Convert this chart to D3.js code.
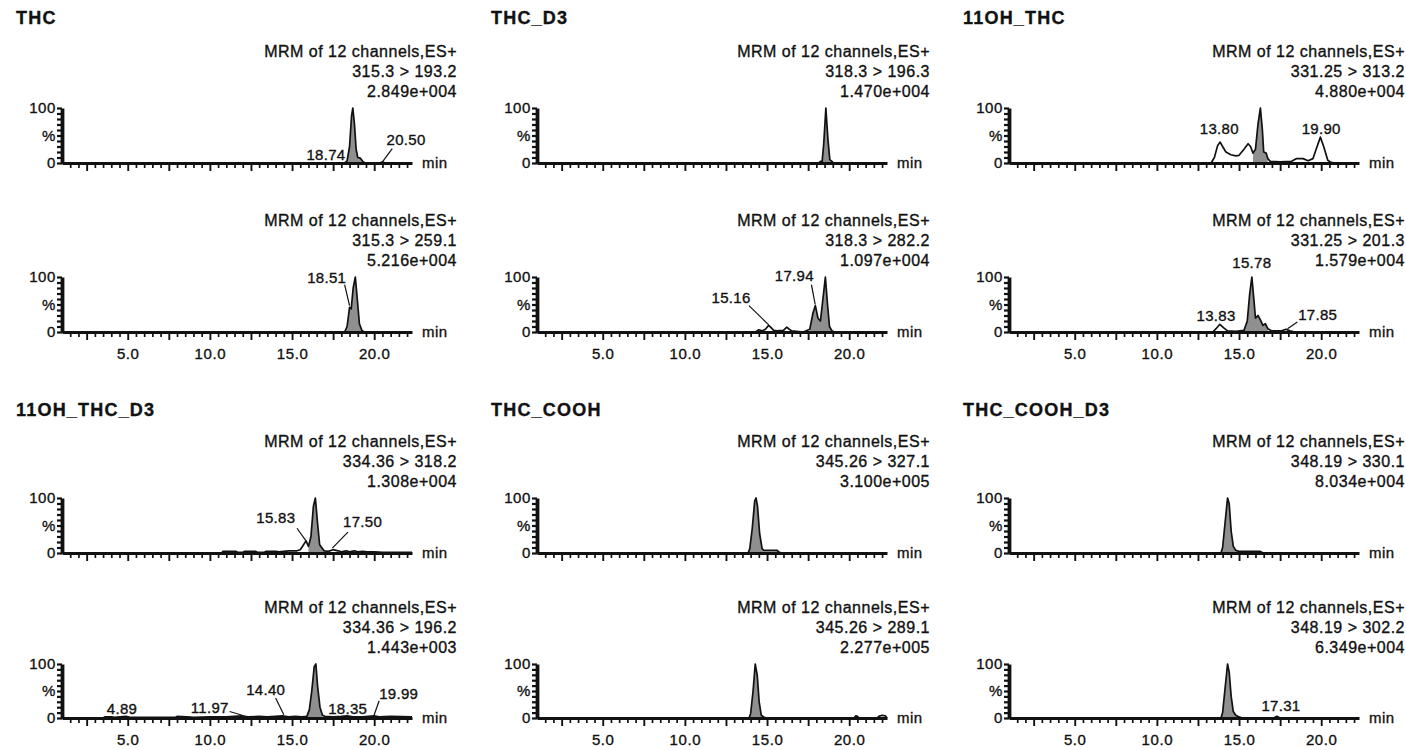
<!DOCTYPE html>
<html><head><meta charset="utf-8">
<script src="https://cdn.jsdelivr.net/npm/d3@7"></script>
<style>
body{margin:0;background:#fff}
svg{display:block}
text{font-family:"Liberation Sans",Arial,sans-serif;fill:#111;stroke:#111;stroke-width:0.35px}
</style>
</head><body>
<svg id="chart" width="1406" height="750"></svg>
<script>
// ---------------- DATA ----------------
const compounds = ["THC", "THC_D3", "11OH_THC", "11OH_THC_D3", "THC_COOH", "THC_COOH_D3"];
const scanFunction = "MRM of 12 channels,ES+";
const transitions = [
  ["315.3 > 193.2", "315.3 > 259.1"],
  ["318.3 > 196.3", "318.3 > 282.2"],
  ["331.25 > 313.2", "331.25 > 201.3"],
  ["334.36 > 318.2", "334.36 > 196.2"],
  ["345.26 > 327.1", "345.26 > 289.1"],
  ["348.19 > 330.1", "348.19 > 302.2"]
];
const intensities = [
  ["2.849e+004", "5.216e+004"],
  ["1.470e+004", "1.097e+004"],
  ["4.880e+004", "1.579e+004"],
  ["1.308e+004", "1.443e+003"],
  ["3.100e+005", "2.277e+005"],
  ["8.034e+004", "6.349e+004"]
];
const timeRange = [1, 22.3];
const xTickLabels = [5, 10, 15, 20];
const yTickLabels = {0: "0", 50: "%", 100: "100"};

// chromatogram traces: [time (min), relative intensity (%)]
const thc_193 = [[1,0],[18.2,0],[18.35,4],[18.5,30],[18.62,85],[18.7,100],[18.8,70],[18.9,25],[19.0,10],[19.15,9],[19.3,3],[19.45,0],[20.35,0],[20.5,2],[20.65,0],[22.3,0]];
const thc_259 = [[1,0],[18.2,0],[18.35,10],[18.5,45],[18.6,42],[18.72,80],[18.85,100],[18.97,60],[19.1,15],[19.25,3],[19.4,0],[22.3,0]];
const thcd3_196 = [[1,0],[18.15,0],[18.25,3],[18.35,2],[18.45,35],[18.58,100],[18.7,45],[18.82,6],[18.95,3],[19.05,0],[22.3,0]];
const thcd3_282 = [[1,0],[14.3,0],[14.5,4],[14.7,2],[14.9,5],[15.1,12],[15.25,8],[15.4,3],[15.6,2],[16.0,3],[16.2,9],[16.35,5],[16.5,2],[17.2,0],[17.6,5],[17.8,35],[17.94,48],[18.1,25],[18.25,20],[18.4,60],[18.55,100],[18.68,50],[18.8,10],[18.95,2],[19.1,0],[22.3,0]];
const oh_313 = [[1,0],[13.3,0],[13.5,10],[13.7,32],[13.85,38],[14.0,30],[14.2,20],[14.5,15],[14.8,13],[15.0,14],[15.3,25],[15.55,35],[15.7,30],[15.85,18],[16.0,25],[16.15,70],[16.3,100],[16.42,60],[16.5,20],[16.65,18],[16.75,8],[16.9,3],[17.5,2],[18.2,3],[18.5,8],[18.9,8],[19.2,4],[19.5,8],[19.75,30],[19.95,47],[20.15,30],[20.4,5],[20.6,1],[20.8,0],[22.3,0]];
const oh_201 = [[1,0],[13.4,0],[13.6,6],[13.83,14],[14.05,8],[14.3,2],[14.8,1],[15.3,3],[15.5,20],[15.65,70],[15.78,100],[15.9,60],[16.0,25],[16.15,30],[16.3,22],[16.45,12],[16.6,15],[16.75,6],[17.0,2],[17.6,2],[17.85,5],[18.1,2],[18.4,0],[22.3,0]];
const ohd3_318 = [[1,0],[10.7,0],[10.8,3],[11.6,3],[11.7,1],[12.0,1],[12.1,3],[12.8,3],[12.9,1],[13.3,1],[13.4,3],[14.0,3],[14.2,2],[14.8,4],[15.3,4],[15.5,6],[15.7,15],[15.85,22],[16.0,12],[16.15,30],[16.3,85],[16.42,100],[16.55,55],[16.68,15],[16.8,10],[16.95,4],[17.2,3],[17.5,6],[17.8,4],[18.0,2],[18.3,4],[18.5,2],[18.8,4],[19.0,2],[19.3,3],[19.6,2],[20.0,2],[20.5,1],[22.3,1]];
const ohd3_196 = [[1,0],[3.5,0],[3.6,2],[4.0,2],[4.2,1],[4.89,3],[5.2,1],[6.0,1],[7.9,1],[8.0,3],[8.6,2],[9.0,1],[10.0,2],[11.0,2],[11.97,4],[12.3,2],[13.0,3],[13.5,2],[14.0,3],[14.4,4],[14.8,2],[15.2,3],[15.6,2],[15.9,3],[16.05,15],[16.2,50],[16.35,95],[16.45,100],[16.55,60],[16.7,20],[16.85,5],[17.0,3],[17.5,2],[18.0,3],[18.35,4],[18.7,2],[19.3,2],[19.99,4],[20.3,2],[21.0,3],[22.3,2]];
const cooh_327 = [[1,0],[13.85,0],[13.95,8],[14.1,45],[14.25,95],[14.33,100],[14.42,85],[14.55,35],[14.7,8],[14.8,5],[15.6,5],[15.75,1],[15.9,0],[22.3,0]];
const cooh_289 = [[1,0],[13.9,0],[14.0,8],[14.15,50],[14.28,100],[14.4,80],[14.52,30],[14.65,5],[14.8,2],[14.95,0],[20.3,0],[20.4,4],[20.5,3],[20.6,0],[21.7,0],[21.8,3],[22.0,5],[22.2,4],[22.3,0]];
const coohd3_330 = [[1,0],[13.9,0],[14.0,10],[14.15,55],[14.3,100],[14.4,90],[14.52,40],[14.65,12],[14.8,5],[15.0,3],[16.3,3],[16.45,0],[22.3,0]];
const coohd3_302 = [[1,0],[13.9,0],[14.0,10],[14.15,55],[14.3,100],[14.4,85],[14.52,40],[14.65,12],[14.8,5],[15.0,2],[15.2,0],[17.1,0],[17.3,3],[17.5,0],[22.3,0]];

const traces = [[thc_193, thc_259], [thcd3_196, thcd3_282], [oh_313, oh_201], [ohd3_318, ohd3_196], [cooh_327, cooh_289], [coohd3_330, coohd3_302]];

// integrated (shaded) peak windows, min
const peakWindows = [
  [[18.2, 19.45], [18.2, 19.4]],
  [[18.15, 19.05], [17.5, 19.1]],
  [[15.85, 16.75], [15.3, 16.9]],
  [[16.0, 16.95], [15.9, 16.85]],
  [[13.85, 15.9], [13.9, 14.95]],
  [[13.9, 16.45], [13.9, 15.2]]
];

// retention-time annotations: text, label time, label %, anchor, optional leader [t1,v1,t2,v2]
const peakLabels = [
  [[{text:"18.74", t:18.25, v:6, a:"end"}, {text:"20.50", t:20.75, v:32, a:"start", lead:[20.5,2,21.1,26]}],
   [{text:"18.51", t:18.3, v:90, a:"end", lead:[18.2,86,18.5,48]}]],
  [[],
   [{text:"15.16", t:14.0, v:52, a:"end", lead:[13.9,48,15.1,13]}, {text:"17.94", t:17.85, v:92, a:"end", lead:[17.7,86,17.93,50]}]],
  [[{text:"13.80", t:13.8, v:52, a:"middle"}, {text:"19.90", t:20.0, v:53, a:"middle"}],
   [{text:"15.78", t:15.78, v:117, a:"middle"}, {text:"13.83", t:13.6, v:20, a:"middle"}, {text:"17.85", t:18.6, v:22, a:"start", lead:[18.55,18,17.95,6]}]],
  [[{text:"15.83", t:15.2, v:55, a:"end", lead:[15.3,45,15.85,22]}, {text:"17.50", t:18.1, v:47, a:"start", lead:[17.45,9,18.4,38]}],
   [{text:"4.89", t:4.65, v:8, a:"middle"}, {text:"11.97", t:11.15, v:9, a:"end", lead:[11.2,12,11.97,5]}, {text:"14.40", t:13.4, v:42, a:"middle", lead:[14.0,37,14.5,6]}, {text:"18.35", t:17.2, v:8, a:"start"}, {text:"19.99", t:20.3, v:36, a:"start", lead:[20.3,32,19.99,5]}]],
  [[], []],
  [[], [{text:"17.31", t:17.55, v:13, a:"middle"}]]
];

// ---------------- LAYOUT ----------------
const colAxisX = [62, 537, 1009];
const plotW = 350;
const plotTop = [108, 277, 498, 664];
const plotBottom = [163, 332, 553, 718];
const titleBase = [24, 416];
const headerRight = [457, 930, 1405];
const headerOffsets = [-51, -31, -11];

const svg = d3.select("#chart");
const FONT = "Liberation Sans, Arial, sans-serif";

compounds.forEach((name, p) => {
  const col = p % 3, grp = Math.floor(p / 3);
  const ax = colAxisX[col];
  svg.append("text").attr("x", ax - 46).attr("y", titleBase[grp])
    .attr("font-size", 18).attr("font-weight", "bold").attr("letter-spacing", 1.2)
    .text(name);

  [0, 1].forEach(s => {
    const row = grp * 2 + s;
    const top = plotTop[row], bot = plotBottom[row];
    const x = d3.scaleLinear().domain(timeRange).range([ax, ax + plotW]);
    const y = d3.scaleLinear().domain([0, 100]).range([bot, top]);
    const g = svg.append("g");

    // header text
    const hx = headerRight[col];
    [scanFunction, transitions[p][s], intensities[p][s]].forEach((t, i) => {
      g.append("text").attr("x", hx).attr("y", top + headerOffsets[i])
        .attr("text-anchor", "end").attr("font-size", 16).attr("letter-spacing", 0.5)
        .text(t);
    });

    const data = traces[p][s];
    // shaded peak
    const [w0, w1] = peakWindows[p][s];
    const area = d3.area().x(d => x(d[0])).y0(y(0)).y1(d => y(d[1]));
    g.append("path").datum(data.filter(d => d[0] >= w0 && d[0] <= w1))
      .attr("d", area).attr("fill", "#8f8f8f").attr("stroke", "none");

    // trace
    const line = d3.line().x(d => x(d[0])).y(d => y(d[1]));
    g.append("path").datum(data).attr("d", line)
      .attr("fill", "none").attr("stroke", "#111").attr("stroke-width", 1.7).attr("stroke-linejoin", "round");

    // x axis: minor ticks
    const minor = d3.range(1.5, 22.01, 0.5).filter(v => Math.abs(v / 2.5 - Math.round(v / 2.5)) > 1e-6);
    const major = d3.range(2.5, 22.01, 2.5);
    g.append("g").attr("transform", `translate(0,${bot})`)
      .call(d3.axisBottom(x).tickValues(minor).tickSize(5).tickSizeOuter(0).tickFormat(""))
      .call(a => a.select(".domain").remove())
      .call(a => a.selectAll("line").attr("stroke", "#111").attr("stroke-width", 1.7));
    const xa = g.append("g").attr("transform", `translate(0,${bot})`)
      .call(d3.axisBottom(x).tickValues(major).tickSize(8).tickSizeOuter(0)
        .tickFormat(d => (s === 1 && xTickLabels.includes(d)) ? d3.format(".1f")(d) : ""));
    xa.select(".domain").attr("stroke", "#111").attr("stroke-width", 3.2);
    xa.selectAll("line").attr("stroke", "#111").attr("stroke-width", 1.9);
    xa.selectAll("text").attr("font-size", 15).attr("dy", "1.05em").attr("fill", "#111")
      .attr("stroke", "#111").attr("stroke-width", 0.35).attr("letter-spacing", 0.6)
      .attr("font-family", FONT);

    // y axis
    const ya = g.append("g").attr("transform", `translate(${ax},0)`)
      .call(d3.axisLeft(y).tickValues(d3.range(0, 101, 10)).tickSize(5).tickSizeOuter(0)
        .tickFormat(d => yTickLabels[d] || ""));
    ya.select(".domain").attr("stroke", "#111").attr("stroke-width", 3.8);
    ya.selectAll("line").attr("stroke", "#111").attr("stroke-width", 2.2);
    ya.selectAll("text").attr("font-size", 15).attr("x", -6).attr("fill", "#111")
      .attr("stroke", "#111").attr("stroke-width", 0.35).attr("letter-spacing", 0.6)
      .attr("font-family", FONT);

    g.append("text").attr("x", ax + plotW + 10).attr("y", bot + 5)
      .attr("font-size", 15).attr("letter-spacing", 0.5).text("min");

    // peak labels
    peakLabels[p][s].forEach(l => {
      g.append("text").attr("x", x(l.t)).attr("y", y(l.v))
        .attr("text-anchor", l.a).attr("font-size", 15).attr("letter-spacing", 0.3).text(l.text);
      if (l.lead) {
        g.append("line").attr("x1", x(l.lead[0])).attr("y1", y(l.lead[1]))
          .attr("x2", x(l.lead[2])).attr("y2", y(l.lead[3]))
          .attr("stroke", "#111").attr("stroke-width", 1.2);
      }
    });
  });
});
</script>
</body></html>
